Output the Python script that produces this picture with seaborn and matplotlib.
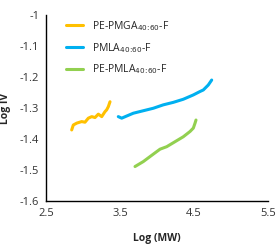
import pandas as pd
import seaborn as sns
import matplotlib.pyplot as plt

# values
pmga_x = [2.847, 2.869, 2.915, 2.982, 3.027, 3.072, 3.118, 3.162, 3.207, 3.253, 3.297, 3.320, 3.342, 3.365]
pmga_y = [-1.371, -1.355, -1.349, -1.344, -1.346, -1.333, -1.328, -1.331, -1.320, -1.328, -1.312, -1.306, -1.296, -1.280]

pmla_x = [3.477, 3.523, 3.591, 3.680, 3.815, 3.950, 4.085, 4.220, 4.355, 4.491, 4.581, 4.626, 4.693, 4.739]
pmla_y = [-1.328, -1.333, -1.326, -1.317, -1.309, -1.301, -1.290, -1.282, -1.272, -1.258, -1.247, -1.242, -1.226, -1.210]

pepmla_x = [3.703, 3.815, 3.950, 4.041, 4.131, 4.243, 4.355, 4.446, 4.491, 4.514, 4.527]
pepmla_y = [-1.489, -1.473, -1.449, -1.433, -1.425, -1.409, -1.393, -1.376, -1.365, -1.349, -1.339]

labels = [r'PE-PMGA$_{40\!:\!60}$-F', r'PMLA$_{40\!:\!60}$-F', r'PE-PMLA$_{40\!:\!60}$-F']
colors = ['#FFC000', '#00B0F0', '#92D050']

x_ticks = [2.5, 3.5, 4.5, 5.5]
y_ticks = [-1, -1.1, -1.2, -1.3, -1.4, -1.5, -1.6]

sns.set_style('white')
plt.rcParams['font.family'] = ['Open Sans', 'DejaVu Sans']

df = pd.concat([
    pd.DataFrame({'x': pmga_x, 'y': pmga_y, 'sample': labels[0]}),
    pd.DataFrame({'x': pmla_x, 'y': pmla_y, 'sample': labels[1]}),
    pd.DataFrame({'x': pepmla_x, 'y': pepmla_y, 'sample': labels[2]}),
])

fig = plt.figure(figsize=(2.78, 2.49), dpi=100)
ax = fig.add_axes([0.1655, 0.193, 0.7985, 0.747])

sns.lineplot(data=df, x='x', y='y', hue='sample', palette=colors,
             linewidth=2.2, sort=False, estimator=None, ax=ax)

ax.set_xlim(2.5, 5.5)
ax.set_ylim(-1.6, -1)
ax.set_xticks(x_ticks)
ax.set_xticklabels([f'{t:g}' for t in x_ticks])
ax.set_yticks(y_ticks)
ax.set_yticklabels([f'{t:g}' for t in y_ticks])
ax.tick_params(axis='both', length=0, labelsize=8, pad=5, labelcolor='#333333')

for s in ['top', 'right']:
    ax.spines[s].set_visible(False)
for s in ['left', 'bottom']:
    ax.spines[s].set_color('black')
    ax.spines[s].set_linewidth(1.0)

ax.set_xlabel('Log (MW)', fontsize=7.5, fontweight='bold', labelpad=10)
ax.set_ylabel('Log IV', fontsize=7.5, fontweight='bold', labelpad=6)

leg = ax.legend(loc='upper left', bbox_to_anchor=(0.07, 1.0), frameon=False,
                fontsize=7.5, handlelength=1.7, handletextpad=0.8,
                labelspacing=0.75, borderaxespad=0)

plt.savefig('out.png', dpi=100)
